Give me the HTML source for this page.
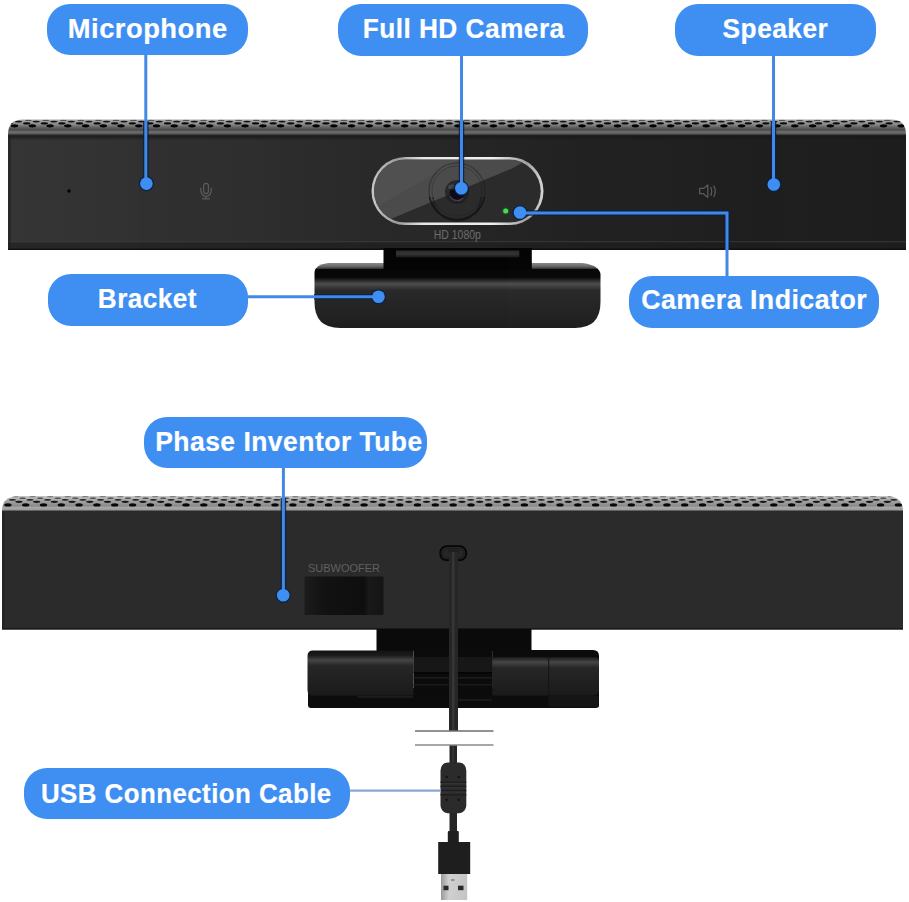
<!DOCTYPE html>
<html>
<head>
<meta charset="utf-8">
<style>
html,body{margin:0;padding:0;background:#fff;}
body{width:909px;height:902px;position:relative;overflow:hidden;}
svg.dev{position:absolute;left:0;top:0;}
.pill{position:absolute;background:#3f8ff2;border-radius:23px;color:#fff;
  font-family:"Liberation Sans",sans-serif;font-weight:bold;font-size:28px;
  display:flex;align-items:center;justify-content:center;white-space:nowrap;}
.pill span{display:inline-block;}
.pill{-webkit-text-stroke:0.2px #fff;letter-spacing:0.5px;}
</style>
</head>
<body>
<svg class="dev" width="909" height="902" viewBox="0 0 909 902">
<defs>
  <linearGradient id="faceTop" x1="0" y1="0" x2="1" y2="0">
    <stop offset="0" stop-color="#353535"/>
    <stop offset="0.35" stop-color="#2c2c2c"/>
    <stop offset="0.65" stop-color="#222222"/>
    <stop offset="1" stop-color="#1d1d1d"/>
  </linearGradient>
  <linearGradient id="stripTop" x1="0" y1="119.5" x2="0" y2="135.5" gradientUnits="userSpaceOnUse">
    <stop offset="0" stop-color="#a8a8a8"/>
    <stop offset="0.3" stop-color="#8a8a8a"/>
    <stop offset="0.5" stop-color="#606060"/>
    <stop offset="0.64" stop-color="#4a4a4a"/>
    <stop offset="0.8" stop-color="#727272"/>
    <stop offset="0.92" stop-color="#4a4a4a"/>
    <stop offset="1" stop-color="#262626"/>
  </linearGradient>
  <linearGradient id="stripBot" x1="0" y1="496" x2="0" y2="511.5" gradientUnits="userSpaceOnUse">
    <stop offset="0" stop-color="#c8c8c8"/>
    <stop offset="0.3" stop-color="#a4a4a4"/>
    <stop offset="0.65" stop-color="#8a8a8a"/>
    <stop offset="0.75" stop-color="#aaaaaa"/>
    <stop offset="0.88" stop-color="#9a9a9a"/>
    <stop offset="0.95" stop-color="#555"/>
    <stop offset="1" stop-color="#2b2b2b"/>
  </linearGradient>
  <clipPath id="clipStripTop"><path d="M8,136 L8,134.5 Q8,119.5 23,119.5 L891,119.5 Q906,119.5 906,134.5 L906,136 Z"/></clipPath>
  <clipPath id="clipStripBot"><path d="M2,512 L2,511 Q2,496 19,496 L886,496 Q903,496 903,511 L903,512 Z"/></clipPath>
  <linearGradient id="ring" x1="0" y1="0" x2="1" y2="0">
    <stop offset="0" stop-color="#c8c8c8"/>
    <stop offset="0.15" stop-color="#9a9a9a"/>
    <stop offset="0.3" stop-color="#e8e8e8"/>
    <stop offset="0.7" stop-color="#f0f0f0"/>
    <stop offset="0.9" stop-color="#a0a0a0"/>
    <stop offset="1" stop-color="#d8d8d8"/>
  </linearGradient>
  <linearGradient id="glass" x1="0" y1="0" x2="1" y2="1" gradientUnits="objectBoundingBox">
    <stop offset="0" stop-color="#5a5a5a"/>
    <stop offset="0.48" stop-color="#444"/>
    <stop offset="0.5" stop-color="#2c2c2c"/>
    <stop offset="1" stop-color="#222"/>
  </linearGradient>
  <linearGradient id="brk" x1="0" y1="263" x2="0" y2="328" gradientUnits="userSpaceOnUse">
    <stop offset="0" stop-color="#8a8a8a"/>
    <stop offset="0.05" stop-color="#6a6a6a"/>
    <stop offset="0.085" stop-color="#3a3a3a"/>
    <stop offset="0.1" stop-color="#080808"/>
    <stop offset="0.22" stop-color="#080808"/>
    <stop offset="0.32" stop-color="#4e4e4e"/>
    <stop offset="0.42" stop-color="#2a2a2a"/>
    <stop offset="1" stop-color="#1f1f1f"/>
  </linearGradient>
  <linearGradient id="cyl" x1="0" y1="650" x2="0" y2="696" gradientUnits="userSpaceOnUse">
    <stop offset="0" stop-color="#101010"/>
    <stop offset="0.12" stop-color="#1c1c1c"/>
    <stop offset="0.22" stop-color="#464646"/>
    <stop offset="0.34" stop-color="#262626"/>
    <stop offset="1" stop-color="#1a1a1a"/>
  </linearGradient>
  <linearGradient id="cyl2" x1="0" y1="657" x2="0" y2="696" gradientUnits="userSpaceOnUse">
    <stop offset="0" stop-color="#181818"/>
    <stop offset="0.13" stop-color="#464646"/>
    <stop offset="0.28" stop-color="#262626"/>
    <stop offset="1" stop-color="#1a1a1a"/>
  </linearGradient>
  <linearGradient id="subg" x1="0" y1="0" x2="1" y2="0">
    <stop offset="0" stop-color="#1c1c1c"/>
    <stop offset="0.25" stop-color="#121212"/>
    <stop offset="0.75" stop-color="#0e0e0e"/>
    <stop offset="0.82" stop-color="#191919"/>
    <stop offset="1" stop-color="#141414"/>
  </linearGradient>
  <linearGradient id="shadeTop" x1="0" y1="0" x2="0" y2="1">
    <stop offset="0" stop-color="#181818" stop-opacity="0.9"/>
    <stop offset="1" stop-color="#181818" stop-opacity="0"/>
  </linearGradient>
  <linearGradient id="neckIn" x1="0" y1="0" x2="0" y2="1">
    <stop offset="0" stop-color="#2a2a2a"/>
    <stop offset="0.5" stop-color="#353535"/>
    <stop offset="1" stop-color="#1a1a1a"/>
  </linearGradient>
  <linearGradient id="metal" x1="0" y1="0" x2="1" y2="0">
    <stop offset="0" stop-color="#9a9a9a"/>
    <stop offset="0.3" stop-color="#d0d0d0"/>
    <stop offset="1" stop-color="#c4c4c4"/>
  </linearGradient>
</defs>

<!-- ===== TOP DEVICE ===== -->
<!-- perforated strip -->
<g clip-path="url(#clipStripTop)">
<rect x="8" y="119" width="898" height="17" fill="url(#stripTop)"/>
<g fill="#555"><ellipse cx="10.8" cy="120.4" rx="3.4" ry="0.7"/><ellipse cx="28.4" cy="120.4" rx="3.4" ry="0.7"/><ellipse cx="45.9" cy="120.4" rx="3.4" ry="0.7"/><ellipse cx="63.4" cy="120.4" rx="3.4" ry="0.7"/><ellipse cx="80.9" cy="120.4" rx="3.4" ry="0.7"/><ellipse cx="98.5" cy="120.4" rx="3.4" ry="0.7"/><ellipse cx="116.0" cy="120.4" rx="3.4" ry="0.7"/><ellipse cx="133.5" cy="120.4" rx="3.4" ry="0.7"/><ellipse cx="151.1" cy="120.4" rx="3.4" ry="0.7"/><ellipse cx="168.6" cy="120.4" rx="3.4" ry="0.7"/><ellipse cx="186.1" cy="120.4" rx="3.4" ry="0.7"/><ellipse cx="203.6" cy="120.4" rx="3.4" ry="0.7"/><ellipse cx="221.2" cy="120.4" rx="3.4" ry="0.7"/><ellipse cx="238.7" cy="120.4" rx="3.4" ry="0.7"/><ellipse cx="256.2" cy="120.4" rx="3.4" ry="0.7"/><ellipse cx="273.8" cy="120.4" rx="3.4" ry="0.7"/><ellipse cx="291.3" cy="120.4" rx="3.4" ry="0.7"/><ellipse cx="308.8" cy="120.4" rx="3.4" ry="0.7"/><ellipse cx="326.4" cy="120.4" rx="3.4" ry="0.7"/><ellipse cx="343.9" cy="120.4" rx="3.4" ry="0.7"/><ellipse cx="361.4" cy="120.4" rx="3.4" ry="0.7"/><ellipse cx="378.9" cy="120.4" rx="3.4" ry="0.7"/><ellipse cx="396.5" cy="120.4" rx="3.4" ry="0.7"/><ellipse cx="414.0" cy="120.4" rx="3.4" ry="0.7"/><ellipse cx="431.5" cy="120.4" rx="3.4" ry="0.7"/><ellipse cx="449.1" cy="120.4" rx="3.4" ry="0.7"/><ellipse cx="466.6" cy="120.4" rx="3.4" ry="0.7"/><ellipse cx="484.1" cy="120.4" rx="3.4" ry="0.7"/><ellipse cx="501.7" cy="120.4" rx="3.4" ry="0.7"/><ellipse cx="519.2" cy="120.4" rx="3.4" ry="0.7"/><ellipse cx="536.7" cy="120.4" rx="3.4" ry="0.7"/><ellipse cx="554.2" cy="120.4" rx="3.4" ry="0.7"/><ellipse cx="571.8" cy="120.4" rx="3.4" ry="0.7"/><ellipse cx="589.3" cy="120.4" rx="3.4" ry="0.7"/><ellipse cx="606.8" cy="120.4" rx="3.4" ry="0.7"/><ellipse cx="624.4" cy="120.4" rx="3.4" ry="0.7"/><ellipse cx="641.9" cy="120.4" rx="3.4" ry="0.7"/><ellipse cx="659.4" cy="120.4" rx="3.4" ry="0.7"/><ellipse cx="676.9" cy="120.4" rx="3.4" ry="0.7"/><ellipse cx="694.5" cy="120.4" rx="3.4" ry="0.7"/><ellipse cx="712.0" cy="120.4" rx="3.4" ry="0.7"/><ellipse cx="729.5" cy="120.4" rx="3.4" ry="0.7"/><ellipse cx="747.1" cy="120.4" rx="3.4" ry="0.7"/><ellipse cx="764.6" cy="120.4" rx="3.4" ry="0.7"/><ellipse cx="782.1" cy="120.4" rx="3.4" ry="0.7"/><ellipse cx="799.7" cy="120.4" rx="3.4" ry="0.7"/><ellipse cx="817.2" cy="120.4" rx="3.4" ry="0.7"/><ellipse cx="834.7" cy="120.4" rx="3.4" ry="0.7"/><ellipse cx="852.2" cy="120.4" rx="3.4" ry="0.7"/><ellipse cx="869.8" cy="120.4" rx="3.4" ry="0.7"/><ellipse cx="887.3" cy="120.4" rx="3.4" ry="0.7"/><ellipse cx="904.8" cy="120.4" rx="3.4" ry="0.7"/></g>
<g fill="#151515"><ellipse cx="18.6" cy="121.6" rx="3.5" ry="0.9"/><ellipse cx="36.2" cy="121.6" rx="3.5" ry="0.9"/><ellipse cx="53.8" cy="121.6" rx="3.5" ry="0.9"/><ellipse cx="71.3" cy="121.6" rx="3.5" ry="0.9"/><ellipse cx="88.9" cy="121.6" rx="3.5" ry="0.9"/><ellipse cx="106.5" cy="121.6" rx="3.5" ry="0.9"/><ellipse cx="124.0" cy="121.6" rx="3.5" ry="0.9"/><ellipse cx="141.6" cy="121.6" rx="3.5" ry="0.9"/><ellipse cx="159.2" cy="121.6" rx="3.5" ry="0.9"/><ellipse cx="176.7" cy="121.6" rx="3.5" ry="0.9"/><ellipse cx="194.3" cy="121.6" rx="3.5" ry="0.9"/><ellipse cx="211.9" cy="121.6" rx="3.5" ry="0.9"/><ellipse cx="229.4" cy="121.6" rx="3.5" ry="0.9"/><ellipse cx="247.0" cy="121.6" rx="3.5" ry="0.9"/><ellipse cx="264.6" cy="121.6" rx="3.5" ry="0.9"/><ellipse cx="282.1" cy="121.6" rx="3.5" ry="0.9"/><ellipse cx="299.7" cy="121.6" rx="3.5" ry="0.9"/><ellipse cx="317.2" cy="121.6" rx="3.5" ry="0.9"/><ellipse cx="334.8" cy="121.6" rx="3.5" ry="0.9"/><ellipse cx="352.4" cy="121.6" rx="3.5" ry="0.9"/><ellipse cx="369.9" cy="121.6" rx="3.5" ry="0.9"/><ellipse cx="387.5" cy="121.6" rx="3.5" ry="0.9"/><ellipse cx="405.1" cy="121.6" rx="3.5" ry="0.9"/><ellipse cx="422.6" cy="121.6" rx="3.5" ry="0.9"/><ellipse cx="440.2" cy="121.6" rx="3.5" ry="0.9"/><ellipse cx="457.8" cy="121.6" rx="3.5" ry="0.9"/><ellipse cx="475.3" cy="121.6" rx="3.5" ry="0.9"/><ellipse cx="492.9" cy="121.6" rx="3.5" ry="0.9"/><ellipse cx="510.5" cy="121.6" rx="3.5" ry="0.9"/><ellipse cx="528.0" cy="121.6" rx="3.5" ry="0.9"/><ellipse cx="545.6" cy="121.6" rx="3.5" ry="0.9"/><ellipse cx="563.2" cy="121.6" rx="3.5" ry="0.9"/><ellipse cx="580.7" cy="121.6" rx="3.5" ry="0.9"/><ellipse cx="598.3" cy="121.6" rx="3.5" ry="0.9"/><ellipse cx="615.8" cy="121.6" rx="3.5" ry="0.9"/><ellipse cx="633.4" cy="121.6" rx="3.5" ry="0.9"/><ellipse cx="651.0" cy="121.6" rx="3.5" ry="0.9"/><ellipse cx="668.5" cy="121.6" rx="3.5" ry="0.9"/><ellipse cx="686.1" cy="121.6" rx="3.5" ry="0.9"/><ellipse cx="703.7" cy="121.6" rx="3.5" ry="0.9"/><ellipse cx="721.2" cy="121.6" rx="3.5" ry="0.9"/><ellipse cx="738.8" cy="121.6" rx="3.5" ry="0.9"/><ellipse cx="756.4" cy="121.6" rx="3.5" ry="0.9"/><ellipse cx="773.9" cy="121.6" rx="3.5" ry="0.9"/><ellipse cx="791.5" cy="121.6" rx="3.5" ry="0.9"/><ellipse cx="809.1" cy="121.6" rx="3.5" ry="0.9"/><ellipse cx="826.6" cy="121.6" rx="3.5" ry="0.9"/><ellipse cx="844.2" cy="121.6" rx="3.5" ry="0.9"/><ellipse cx="861.8" cy="121.6" rx="3.5" ry="0.9"/><ellipse cx="879.3" cy="121.6" rx="3.5" ry="0.9"/><ellipse cx="896.9" cy="121.6" rx="3.5" ry="0.9"/></g>
<g fill="#0a0a0a"><ellipse cx="9.1" cy="123.4" rx="3.6" ry="1.1"/><ellipse cx="26.7" cy="123.4" rx="3.6" ry="1.1"/><ellipse cx="44.3" cy="123.4" rx="3.6" ry="1.1"/><ellipse cx="61.9" cy="123.4" rx="3.6" ry="1.1"/><ellipse cx="79.5" cy="123.4" rx="3.6" ry="1.1"/><ellipse cx="97.1" cy="123.4" rx="3.6" ry="1.1"/><ellipse cx="114.7" cy="123.4" rx="3.6" ry="1.1"/><ellipse cx="132.3" cy="123.4" rx="3.6" ry="1.1"/><ellipse cx="149.9" cy="123.4" rx="3.6" ry="1.1"/><ellipse cx="167.5" cy="123.4" rx="3.6" ry="1.1"/><ellipse cx="185.1" cy="123.4" rx="3.6" ry="1.1"/><ellipse cx="202.7" cy="123.4" rx="3.6" ry="1.1"/><ellipse cx="220.3" cy="123.4" rx="3.6" ry="1.1"/><ellipse cx="237.9" cy="123.4" rx="3.6" ry="1.1"/><ellipse cx="255.5" cy="123.4" rx="3.6" ry="1.1"/><ellipse cx="273.1" cy="123.4" rx="3.6" ry="1.1"/><ellipse cx="290.7" cy="123.4" rx="3.6" ry="1.1"/><ellipse cx="308.3" cy="123.4" rx="3.6" ry="1.1"/><ellipse cx="325.9" cy="123.4" rx="3.6" ry="1.1"/><ellipse cx="343.5" cy="123.4" rx="3.6" ry="1.1"/><ellipse cx="361.1" cy="123.4" rx="3.6" ry="1.1"/><ellipse cx="378.7" cy="123.4" rx="3.6" ry="1.1"/><ellipse cx="396.3" cy="123.4" rx="3.6" ry="1.1"/><ellipse cx="413.9" cy="123.4" rx="3.6" ry="1.1"/><ellipse cx="431.5" cy="123.4" rx="3.6" ry="1.1"/><ellipse cx="449.1" cy="123.4" rx="3.6" ry="1.1"/><ellipse cx="466.7" cy="123.4" rx="3.6" ry="1.1"/><ellipse cx="484.3" cy="123.4" rx="3.6" ry="1.1"/><ellipse cx="501.9" cy="123.4" rx="3.6" ry="1.1"/><ellipse cx="519.5" cy="123.4" rx="3.6" ry="1.1"/><ellipse cx="537.1" cy="123.4" rx="3.6" ry="1.1"/><ellipse cx="554.7" cy="123.4" rx="3.6" ry="1.1"/><ellipse cx="572.3" cy="123.4" rx="3.6" ry="1.1"/><ellipse cx="589.9" cy="123.4" rx="3.6" ry="1.1"/><ellipse cx="607.5" cy="123.4" rx="3.6" ry="1.1"/><ellipse cx="625.1" cy="123.4" rx="3.6" ry="1.1"/><ellipse cx="642.7" cy="123.4" rx="3.6" ry="1.1"/><ellipse cx="660.3" cy="123.4" rx="3.6" ry="1.1"/><ellipse cx="677.9" cy="123.4" rx="3.6" ry="1.1"/><ellipse cx="695.5" cy="123.4" rx="3.6" ry="1.1"/><ellipse cx="713.1" cy="123.4" rx="3.6" ry="1.1"/><ellipse cx="730.7" cy="123.4" rx="3.6" ry="1.1"/><ellipse cx="748.3" cy="123.4" rx="3.6" ry="1.1"/><ellipse cx="765.9" cy="123.4" rx="3.6" ry="1.1"/><ellipse cx="783.5" cy="123.4" rx="3.6" ry="1.1"/><ellipse cx="801.1" cy="123.4" rx="3.6" ry="1.1"/><ellipse cx="818.7" cy="123.4" rx="3.6" ry="1.1"/><ellipse cx="836.3" cy="123.4" rx="3.6" ry="1.1"/><ellipse cx="853.9" cy="123.4" rx="3.6" ry="1.1"/><ellipse cx="871.5" cy="123.4" rx="3.6" ry="1.1"/><ellipse cx="889.1" cy="123.4" rx="3.6" ry="1.1"/><ellipse cx="906.7" cy="123.4" rx="3.6" ry="1.1"/></g>
<g fill="#030303"><ellipse cx="14.6" cy="125.8" rx="3.7" ry="1.6"/><ellipse cx="32.4" cy="125.8" rx="3.7" ry="1.6"/><ellipse cx="50.1" cy="125.8" rx="3.7" ry="1.6"/><ellipse cx="67.8" cy="125.8" rx="3.7" ry="1.6"/><ellipse cx="85.6" cy="125.8" rx="3.7" ry="1.6"/><ellipse cx="103.3" cy="125.8" rx="3.7" ry="1.6"/><ellipse cx="121.0" cy="125.8" rx="3.7" ry="1.6"/><ellipse cx="138.8" cy="125.8" rx="3.7" ry="1.6"/><ellipse cx="156.5" cy="125.8" rx="3.7" ry="1.6"/><ellipse cx="174.2" cy="125.8" rx="3.7" ry="1.6"/><ellipse cx="192.0" cy="125.8" rx="3.7" ry="1.6"/><ellipse cx="209.7" cy="125.8" rx="3.7" ry="1.6"/><ellipse cx="227.4" cy="125.8" rx="3.7" ry="1.6"/><ellipse cx="245.1" cy="125.8" rx="3.7" ry="1.6"/><ellipse cx="262.9" cy="125.8" rx="3.7" ry="1.6"/><ellipse cx="280.6" cy="125.8" rx="3.7" ry="1.6"/><ellipse cx="298.3" cy="125.8" rx="3.7" ry="1.6"/><ellipse cx="316.1" cy="125.8" rx="3.7" ry="1.6"/><ellipse cx="333.8" cy="125.8" rx="3.7" ry="1.6"/><ellipse cx="351.5" cy="125.8" rx="3.7" ry="1.6"/><ellipse cx="369.3" cy="125.8" rx="3.7" ry="1.6"/><ellipse cx="387.0" cy="125.8" rx="3.7" ry="1.6"/><ellipse cx="404.7" cy="125.8" rx="3.7" ry="1.6"/><ellipse cx="422.5" cy="125.8" rx="3.7" ry="1.6"/><ellipse cx="440.2" cy="125.8" rx="3.7" ry="1.6"/><ellipse cx="457.9" cy="125.8" rx="3.7" ry="1.6"/><ellipse cx="475.7" cy="125.8" rx="3.7" ry="1.6"/><ellipse cx="493.4" cy="125.8" rx="3.7" ry="1.6"/><ellipse cx="511.1" cy="125.8" rx="3.7" ry="1.6"/><ellipse cx="528.9" cy="125.8" rx="3.7" ry="1.6"/><ellipse cx="546.6" cy="125.8" rx="3.7" ry="1.6"/><ellipse cx="564.3" cy="125.8" rx="3.7" ry="1.6"/><ellipse cx="582.1" cy="125.8" rx="3.7" ry="1.6"/><ellipse cx="599.8" cy="125.8" rx="3.7" ry="1.6"/><ellipse cx="617.5" cy="125.8" rx="3.7" ry="1.6"/><ellipse cx="635.3" cy="125.8" rx="3.7" ry="1.6"/><ellipse cx="653.0" cy="125.8" rx="3.7" ry="1.6"/><ellipse cx="670.7" cy="125.8" rx="3.7" ry="1.6"/><ellipse cx="688.4" cy="125.8" rx="3.7" ry="1.6"/><ellipse cx="706.2" cy="125.8" rx="3.7" ry="1.6"/><ellipse cx="723.9" cy="125.8" rx="3.7" ry="1.6"/><ellipse cx="741.6" cy="125.8" rx="3.7" ry="1.6"/><ellipse cx="759.4" cy="125.8" rx="3.7" ry="1.6"/><ellipse cx="777.1" cy="125.8" rx="3.7" ry="1.6"/><ellipse cx="794.8" cy="125.8" rx="3.7" ry="1.6"/><ellipse cx="812.6" cy="125.8" rx="3.7" ry="1.6"/><ellipse cx="830.3" cy="125.8" rx="3.7" ry="1.6"/><ellipse cx="848.0" cy="125.8" rx="3.7" ry="1.6"/><ellipse cx="865.8" cy="125.8" rx="3.7" ry="1.6"/><ellipse cx="883.5" cy="125.8" rx="3.7" ry="1.6"/><ellipse cx="901.2" cy="125.8" rx="3.7" ry="1.6"/></g>
</g>
<!-- front face -->
<rect x="8" y="135.5" width="898" height="114.5" fill="url(#faceTop)"/>
<rect x="8" y="135.5" width="898" height="5" fill="url(#shadeTop)"/>
<rect x="8" y="241" width="898" height="1.5" fill="#3a3a3a" opacity="0.7"/>
<rect x="8" y="242.5" width="898" height="6.5" fill="#1e1e1e" opacity="0.6"/>
<rect x="8" y="248.5" width="898" height="1.5" fill="#111"/>
<rect x="8" y="137" width="3" height="112" fill="#222" opacity="0.6"/>
<!-- small mic hole -->
<circle cx="69" cy="191" r="1.8" fill="#050505"/>
<!-- mic icon -->
<g stroke="#5c5c5c" stroke-width="1.25" fill="none">
  <rect x="203.6" y="183.4" width="4.8" height="10.2" rx="2.4"/>
  <path d="M200.6,187.8 Q200.6,196.4 206,196.4 Q211.4,196.4 211.4,187.8"/>
  <line x1="206" y1="196.4" x2="206" y2="198.8"/>
  <line x1="202" y1="198.8" x2="210" y2="198.8"/>
</g>
<!-- speaker icon -->
<g stroke="#5a5a5a" stroke-width="1.3" fill="none" stroke-linejoin="round">
  <path d="M699.6,188.4 L703.4,188.4 L707.8,185 L707.8,197.4 L703.4,193.7 L699.6,193.7 Z"/>
  <path d="M710.6,187 Q712.8,191.2 710.6,195.6"/>
  <path d="M713.6,185.6 Q717,191.2 713.6,197"/>
</g>
<!-- camera module -->
<rect x="371.5" y="157" width="172" height="68" rx="34" fill="url(#ring)"/>
<rect x="374.3" y="160" width="166.4" height="62.5" rx="31.2" fill="#2c2c2c"/>
<clipPath id="glassClip"><rect x="374" y="159.5" width="167" height="63" rx="31.5"/></clipPath>
<g clip-path="url(#glassClip)">
  <polygon points="374,159 545,159 545,150 512,168.5 393,218 374,226" fill="#4c4c4c"/>
  <polygon points="374,159 460,159 380,205 374,210" fill="#565656" opacity="0.5"/>
</g>
<circle cx="457" cy="191" r="28" fill="none" stroke="#1a1a1a" stroke-width="1.2" opacity="0.45"/>
<circle cx="457" cy="191" r="25" fill="none" stroke="#1a1a1a" stroke-width="1" opacity="0.3"/>
<path d="M429.5,197 A28,28 0 0 0 484.5,197" fill="none" stroke="#111" stroke-width="1.6" opacity="0.7"/>
<path d="M433,197 A24,24 0 0 0 481,197" fill="none" stroke="#151515" stroke-width="1.4" opacity="0.6"/>
<circle cx="457" cy="192" r="12" fill="#1c1c1c" opacity="0.7"/>
<circle cx="457" cy="193" r="7.5" fill="#0e0c14"/>
<path d="M450,196 A8,8 0 0 0 463,198" fill="none" stroke="#6a5a8a" stroke-width="1.2" opacity="0.6"/>
<ellipse cx="452" cy="187" rx="4" ry="2.5" fill="#777" opacity="0.35"/>
<circle cx="505.7" cy="211" r="3.6" fill="#2a6a30" opacity="0.5"/><circle cx="505.7" cy="211" r="2.5" fill="#3ee04e"/>
<text x="433.8" y="238.6" font-family="Liberation Sans, sans-serif" font-size="12.4" fill="#6e6e6e" textLength="47" lengthAdjust="spacingAndGlyphs">HD 1080p</text>
<!-- bracket -->
<path d="M328,263 L582,263 Q599,265 600.5,274 L600.5,302 Q600.5,328 575,328 L340,328 Q314.5,328 314.5,302 L314.5,272 Q315.5,264.5 328,263 Z" fill="url(#brk)"/>
<!-- neck -->
<rect x="383.5" y="248" width="148.3" height="21.5" fill="#050505"/>
<rect x="396" y="250.5" width="123.3" height="6.8" fill="url(#neckIn)"/>

<!-- ===== BOTTOM DEVICE ===== -->
<g clip-path="url(#clipStripBot)">
<rect x="2" y="495" width="901" height="17" fill="url(#stripBot)"/>
<g fill="#7a7a7a"><ellipse cx="-2.4" cy="496.7" rx="3.4" ry="0.6"/><ellipse cx="15.1" cy="496.7" rx="3.4" ry="0.6"/><ellipse cx="32.6" cy="496.7" rx="3.4" ry="0.6"/><ellipse cx="50.2" cy="496.7" rx="3.4" ry="0.6"/><ellipse cx="67.7" cy="496.7" rx="3.4" ry="0.6"/><ellipse cx="85.2" cy="496.7" rx="3.4" ry="0.6"/><ellipse cx="102.7" cy="496.7" rx="3.4" ry="0.6"/><ellipse cx="120.2" cy="496.7" rx="3.4" ry="0.6"/><ellipse cx="137.7" cy="496.7" rx="3.4" ry="0.6"/><ellipse cx="155.2" cy="496.7" rx="3.4" ry="0.6"/><ellipse cx="172.7" cy="496.7" rx="3.4" ry="0.6"/><ellipse cx="190.3" cy="496.7" rx="3.4" ry="0.6"/><ellipse cx="207.8" cy="496.7" rx="3.4" ry="0.6"/><ellipse cx="225.3" cy="496.7" rx="3.4" ry="0.6"/><ellipse cx="242.8" cy="496.7" rx="3.4" ry="0.6"/><ellipse cx="260.3" cy="496.7" rx="3.4" ry="0.6"/><ellipse cx="277.8" cy="496.7" rx="3.4" ry="0.6"/><ellipse cx="295.3" cy="496.7" rx="3.4" ry="0.6"/><ellipse cx="312.8" cy="496.7" rx="3.4" ry="0.6"/><ellipse cx="330.4" cy="496.7" rx="3.4" ry="0.6"/><ellipse cx="347.9" cy="496.7" rx="3.4" ry="0.6"/><ellipse cx="365.4" cy="496.7" rx="3.4" ry="0.6"/><ellipse cx="382.9" cy="496.7" rx="3.4" ry="0.6"/><ellipse cx="400.4" cy="496.7" rx="3.4" ry="0.6"/><ellipse cx="417.9" cy="496.7" rx="3.4" ry="0.6"/><ellipse cx="435.4" cy="496.7" rx="3.4" ry="0.6"/><ellipse cx="452.9" cy="496.7" rx="3.4" ry="0.6"/><ellipse cx="470.4" cy="496.7" rx="3.4" ry="0.6"/><ellipse cx="488.0" cy="496.7" rx="3.4" ry="0.6"/><ellipse cx="505.5" cy="496.7" rx="3.4" ry="0.6"/><ellipse cx="523.0" cy="496.7" rx="3.4" ry="0.6"/><ellipse cx="540.5" cy="496.7" rx="3.4" ry="0.6"/><ellipse cx="558.0" cy="496.7" rx="3.4" ry="0.6"/><ellipse cx="575.5" cy="496.7" rx="3.4" ry="0.6"/><ellipse cx="593.0" cy="496.7" rx="3.4" ry="0.6"/><ellipse cx="610.5" cy="496.7" rx="3.4" ry="0.6"/><ellipse cx="628.1" cy="496.7" rx="3.4" ry="0.6"/><ellipse cx="645.6" cy="496.7" rx="3.4" ry="0.6"/><ellipse cx="663.1" cy="496.7" rx="3.4" ry="0.6"/><ellipse cx="680.6" cy="496.7" rx="3.4" ry="0.6"/><ellipse cx="698.1" cy="496.7" rx="3.4" ry="0.6"/><ellipse cx="715.6" cy="496.7" rx="3.4" ry="0.6"/><ellipse cx="733.1" cy="496.7" rx="3.4" ry="0.6"/><ellipse cx="750.6" cy="496.7" rx="3.4" ry="0.6"/><ellipse cx="768.2" cy="496.7" rx="3.4" ry="0.6"/><ellipse cx="785.7" cy="496.7" rx="3.4" ry="0.6"/><ellipse cx="803.2" cy="496.7" rx="3.4" ry="0.6"/><ellipse cx="820.7" cy="496.7" rx="3.4" ry="0.6"/><ellipse cx="838.2" cy="496.7" rx="3.4" ry="0.6"/><ellipse cx="855.7" cy="496.7" rx="3.4" ry="0.6"/><ellipse cx="873.2" cy="496.7" rx="3.4" ry="0.6"/><ellipse cx="890.7" cy="496.7" rx="3.4" ry="0.6"/></g>
<g fill="#333"><ellipse cx="5.1" cy="498.1" rx="3.5" ry="0.7"/><ellipse cx="22.6" cy="498.1" rx="3.5" ry="0.7"/><ellipse cx="40.2" cy="498.1" rx="3.5" ry="0.7"/><ellipse cx="57.8" cy="498.1" rx="3.5" ry="0.7"/><ellipse cx="75.3" cy="498.1" rx="3.5" ry="0.7"/><ellipse cx="92.9" cy="498.1" rx="3.5" ry="0.7"/><ellipse cx="110.5" cy="498.1" rx="3.5" ry="0.7"/><ellipse cx="128.0" cy="498.1" rx="3.5" ry="0.7"/><ellipse cx="145.6" cy="498.1" rx="3.5" ry="0.7"/><ellipse cx="163.2" cy="498.1" rx="3.5" ry="0.7"/><ellipse cx="180.7" cy="498.1" rx="3.5" ry="0.7"/><ellipse cx="198.3" cy="498.1" rx="3.5" ry="0.7"/><ellipse cx="215.8" cy="498.1" rx="3.5" ry="0.7"/><ellipse cx="233.4" cy="498.1" rx="3.5" ry="0.7"/><ellipse cx="251.0" cy="498.1" rx="3.5" ry="0.7"/><ellipse cx="268.5" cy="498.1" rx="3.5" ry="0.7"/><ellipse cx="286.1" cy="498.1" rx="3.5" ry="0.7"/><ellipse cx="303.7" cy="498.1" rx="3.5" ry="0.7"/><ellipse cx="321.2" cy="498.1" rx="3.5" ry="0.7"/><ellipse cx="338.8" cy="498.1" rx="3.5" ry="0.7"/><ellipse cx="356.4" cy="498.1" rx="3.5" ry="0.7"/><ellipse cx="373.9" cy="498.1" rx="3.5" ry="0.7"/><ellipse cx="391.5" cy="498.1" rx="3.5" ry="0.7"/><ellipse cx="409.1" cy="498.1" rx="3.5" ry="0.7"/><ellipse cx="426.6" cy="498.1" rx="3.5" ry="0.7"/><ellipse cx="444.2" cy="498.1" rx="3.5" ry="0.7"/><ellipse cx="461.8" cy="498.1" rx="3.5" ry="0.7"/><ellipse cx="479.3" cy="498.1" rx="3.5" ry="0.7"/><ellipse cx="496.9" cy="498.1" rx="3.5" ry="0.7"/><ellipse cx="514.5" cy="498.1" rx="3.5" ry="0.7"/><ellipse cx="532.0" cy="498.1" rx="3.5" ry="0.7"/><ellipse cx="549.6" cy="498.1" rx="3.5" ry="0.7"/><ellipse cx="567.1" cy="498.1" rx="3.5" ry="0.7"/><ellipse cx="584.7" cy="498.1" rx="3.5" ry="0.7"/><ellipse cx="602.3" cy="498.1" rx="3.5" ry="0.7"/><ellipse cx="619.8" cy="498.1" rx="3.5" ry="0.7"/><ellipse cx="637.4" cy="498.1" rx="3.5" ry="0.7"/><ellipse cx="655.0" cy="498.1" rx="3.5" ry="0.7"/><ellipse cx="672.5" cy="498.1" rx="3.5" ry="0.7"/><ellipse cx="690.1" cy="498.1" rx="3.5" ry="0.7"/><ellipse cx="707.7" cy="498.1" rx="3.5" ry="0.7"/><ellipse cx="725.2" cy="498.1" rx="3.5" ry="0.7"/><ellipse cx="742.8" cy="498.1" rx="3.5" ry="0.7"/><ellipse cx="760.4" cy="498.1" rx="3.5" ry="0.7"/><ellipse cx="777.9" cy="498.1" rx="3.5" ry="0.7"/><ellipse cx="795.5" cy="498.1" rx="3.5" ry="0.7"/><ellipse cx="813.1" cy="498.1" rx="3.5" ry="0.7"/><ellipse cx="830.6" cy="498.1" rx="3.5" ry="0.7"/><ellipse cx="848.2" cy="498.1" rx="3.5" ry="0.7"/><ellipse cx="865.7" cy="498.1" rx="3.5" ry="0.7"/><ellipse cx="883.3" cy="498.1" rx="3.5" ry="0.7"/><ellipse cx="900.9" cy="498.1" rx="3.5" ry="0.7"/></g>
<g fill="#222"><ellipse cx="12.4" cy="499.8" rx="3.5" ry="0.9"/><ellipse cx="30.0" cy="499.8" rx="3.5" ry="0.9"/><ellipse cx="47.6" cy="499.8" rx="3.5" ry="0.9"/><ellipse cx="65.2" cy="499.8" rx="3.5" ry="0.9"/><ellipse cx="82.9" cy="499.8" rx="3.5" ry="0.9"/><ellipse cx="100.5" cy="499.8" rx="3.5" ry="0.9"/><ellipse cx="118.1" cy="499.8" rx="3.5" ry="0.9"/><ellipse cx="135.7" cy="499.8" rx="3.5" ry="0.9"/><ellipse cx="153.4" cy="499.8" rx="3.5" ry="0.9"/><ellipse cx="171.0" cy="499.8" rx="3.5" ry="0.9"/><ellipse cx="188.6" cy="499.8" rx="3.5" ry="0.9"/><ellipse cx="206.2" cy="499.8" rx="3.5" ry="0.9"/><ellipse cx="223.9" cy="499.8" rx="3.5" ry="0.9"/><ellipse cx="241.5" cy="499.8" rx="3.5" ry="0.9"/><ellipse cx="259.1" cy="499.8" rx="3.5" ry="0.9"/><ellipse cx="276.8" cy="499.8" rx="3.5" ry="0.9"/><ellipse cx="294.4" cy="499.8" rx="3.5" ry="0.9"/><ellipse cx="312.0" cy="499.8" rx="3.5" ry="0.9"/><ellipse cx="329.6" cy="499.8" rx="3.5" ry="0.9"/><ellipse cx="347.3" cy="499.8" rx="3.5" ry="0.9"/><ellipse cx="364.9" cy="499.8" rx="3.5" ry="0.9"/><ellipse cx="382.5" cy="499.8" rx="3.5" ry="0.9"/><ellipse cx="400.1" cy="499.8" rx="3.5" ry="0.9"/><ellipse cx="417.8" cy="499.8" rx="3.5" ry="0.9"/><ellipse cx="435.4" cy="499.8" rx="3.5" ry="0.9"/><ellipse cx="453.0" cy="499.8" rx="3.5" ry="0.9"/><ellipse cx="470.6" cy="499.8" rx="3.5" ry="0.9"/><ellipse cx="488.3" cy="499.8" rx="3.5" ry="0.9"/><ellipse cx="505.9" cy="499.8" rx="3.5" ry="0.9"/><ellipse cx="523.5" cy="499.8" rx="3.5" ry="0.9"/><ellipse cx="541.2" cy="499.8" rx="3.5" ry="0.9"/><ellipse cx="558.8" cy="499.8" rx="3.5" ry="0.9"/><ellipse cx="576.4" cy="499.8" rx="3.5" ry="0.9"/><ellipse cx="594.0" cy="499.8" rx="3.5" ry="0.9"/><ellipse cx="611.7" cy="499.8" rx="3.5" ry="0.9"/><ellipse cx="629.3" cy="499.8" rx="3.5" ry="0.9"/><ellipse cx="646.9" cy="499.8" rx="3.5" ry="0.9"/><ellipse cx="664.5" cy="499.8" rx="3.5" ry="0.9"/><ellipse cx="682.2" cy="499.8" rx="3.5" ry="0.9"/><ellipse cx="699.8" cy="499.8" rx="3.5" ry="0.9"/><ellipse cx="717.4" cy="499.8" rx="3.5" ry="0.9"/><ellipse cx="735.0" cy="499.8" rx="3.5" ry="0.9"/><ellipse cx="752.7" cy="499.8" rx="3.5" ry="0.9"/><ellipse cx="770.3" cy="499.8" rx="3.5" ry="0.9"/><ellipse cx="787.9" cy="499.8" rx="3.5" ry="0.9"/><ellipse cx="805.5" cy="499.8" rx="3.5" ry="0.9"/><ellipse cx="823.2" cy="499.8" rx="3.5" ry="0.9"/><ellipse cx="840.8" cy="499.8" rx="3.5" ry="0.9"/><ellipse cx="858.4" cy="499.8" rx="3.5" ry="0.9"/><ellipse cx="876.1" cy="499.8" rx="3.5" ry="0.9"/><ellipse cx="893.7" cy="499.8" rx="3.5" ry="0.9"/></g>
<g fill="#161616"><ellipse cx="1.1" cy="501.8" rx="3.6" ry="1.1"/><ellipse cx="18.9" cy="501.8" rx="3.6" ry="1.1"/><ellipse cx="36.6" cy="501.8" rx="3.6" ry="1.1"/><ellipse cx="54.3" cy="501.8" rx="3.6" ry="1.1"/><ellipse cx="72.0" cy="501.8" rx="3.6" ry="1.1"/><ellipse cx="89.8" cy="501.8" rx="3.6" ry="1.1"/><ellipse cx="107.5" cy="501.8" rx="3.6" ry="1.1"/><ellipse cx="125.2" cy="501.8" rx="3.6" ry="1.1"/><ellipse cx="142.9" cy="501.8" rx="3.6" ry="1.1"/><ellipse cx="160.7" cy="501.8" rx="3.6" ry="1.1"/><ellipse cx="178.4" cy="501.8" rx="3.6" ry="1.1"/><ellipse cx="196.1" cy="501.8" rx="3.6" ry="1.1"/><ellipse cx="213.8" cy="501.8" rx="3.6" ry="1.1"/><ellipse cx="231.6" cy="501.8" rx="3.6" ry="1.1"/><ellipse cx="249.3" cy="501.8" rx="3.6" ry="1.1"/><ellipse cx="267.0" cy="501.8" rx="3.6" ry="1.1"/><ellipse cx="284.7" cy="501.8" rx="3.6" ry="1.1"/><ellipse cx="302.4" cy="501.8" rx="3.6" ry="1.1"/><ellipse cx="320.2" cy="501.8" rx="3.6" ry="1.1"/><ellipse cx="337.9" cy="501.8" rx="3.6" ry="1.1"/><ellipse cx="355.6" cy="501.8" rx="3.6" ry="1.1"/><ellipse cx="373.3" cy="501.8" rx="3.6" ry="1.1"/><ellipse cx="391.1" cy="501.8" rx="3.6" ry="1.1"/><ellipse cx="408.8" cy="501.8" rx="3.6" ry="1.1"/><ellipse cx="426.5" cy="501.8" rx="3.6" ry="1.1"/><ellipse cx="444.2" cy="501.8" rx="3.6" ry="1.1"/><ellipse cx="462.0" cy="501.8" rx="3.6" ry="1.1"/><ellipse cx="479.7" cy="501.8" rx="3.6" ry="1.1"/><ellipse cx="497.4" cy="501.8" rx="3.6" ry="1.1"/><ellipse cx="515.1" cy="501.8" rx="3.6" ry="1.1"/><ellipse cx="532.8" cy="501.8" rx="3.6" ry="1.1"/><ellipse cx="550.6" cy="501.8" rx="3.6" ry="1.1"/><ellipse cx="568.3" cy="501.8" rx="3.6" ry="1.1"/><ellipse cx="586.0" cy="501.8" rx="3.6" ry="1.1"/><ellipse cx="603.7" cy="501.8" rx="3.6" ry="1.1"/><ellipse cx="621.5" cy="501.8" rx="3.6" ry="1.1"/><ellipse cx="639.2" cy="501.8" rx="3.6" ry="1.1"/><ellipse cx="656.9" cy="501.8" rx="3.6" ry="1.1"/><ellipse cx="674.6" cy="501.8" rx="3.6" ry="1.1"/><ellipse cx="692.4" cy="501.8" rx="3.6" ry="1.1"/><ellipse cx="710.1" cy="501.8" rx="3.6" ry="1.1"/><ellipse cx="727.8" cy="501.8" rx="3.6" ry="1.1"/><ellipse cx="745.5" cy="501.8" rx="3.6" ry="1.1"/><ellipse cx="763.2" cy="501.8" rx="3.6" ry="1.1"/><ellipse cx="781.0" cy="501.8" rx="3.6" ry="1.1"/><ellipse cx="798.7" cy="501.8" rx="3.6" ry="1.1"/><ellipse cx="816.4" cy="501.8" rx="3.6" ry="1.1"/><ellipse cx="834.1" cy="501.8" rx="3.6" ry="1.1"/><ellipse cx="851.9" cy="501.8" rx="3.6" ry="1.1"/><ellipse cx="869.6" cy="501.8" rx="3.6" ry="1.1"/><ellipse cx="887.3" cy="501.8" rx="3.6" ry="1.1"/><ellipse cx="905.0" cy="501.8" rx="3.6" ry="1.1"/></g>
<g fill="#080808"><ellipse cx="7.9" cy="504.9" rx="3.7" ry="1.6"/><ellipse cx="25.7" cy="504.9" rx="3.7" ry="1.6"/><ellipse cx="43.5" cy="504.9" rx="3.7" ry="1.6"/><ellipse cx="61.3" cy="504.9" rx="3.7" ry="1.6"/><ellipse cx="79.1" cy="504.9" rx="3.7" ry="1.6"/><ellipse cx="96.9" cy="504.9" rx="3.7" ry="1.6"/><ellipse cx="114.7" cy="504.9" rx="3.7" ry="1.6"/><ellipse cx="132.6" cy="504.9" rx="3.7" ry="1.6"/><ellipse cx="150.4" cy="504.9" rx="3.7" ry="1.6"/><ellipse cx="168.2" cy="504.9" rx="3.7" ry="1.6"/><ellipse cx="186.0" cy="504.9" rx="3.7" ry="1.6"/><ellipse cx="203.8" cy="504.9" rx="3.7" ry="1.6"/><ellipse cx="221.6" cy="504.9" rx="3.7" ry="1.6"/><ellipse cx="239.4" cy="504.9" rx="3.7" ry="1.6"/><ellipse cx="257.2" cy="504.9" rx="3.7" ry="1.6"/><ellipse cx="275.0" cy="504.9" rx="3.7" ry="1.6"/><ellipse cx="292.9" cy="504.9" rx="3.7" ry="1.6"/><ellipse cx="310.7" cy="504.9" rx="3.7" ry="1.6"/><ellipse cx="328.5" cy="504.9" rx="3.7" ry="1.6"/><ellipse cx="346.3" cy="504.9" rx="3.7" ry="1.6"/><ellipse cx="364.1" cy="504.9" rx="3.7" ry="1.6"/><ellipse cx="381.9" cy="504.9" rx="3.7" ry="1.6"/><ellipse cx="399.7" cy="504.9" rx="3.7" ry="1.6"/><ellipse cx="417.5" cy="504.9" rx="3.7" ry="1.6"/><ellipse cx="435.3" cy="504.9" rx="3.7" ry="1.6"/><ellipse cx="453.2" cy="504.9" rx="3.7" ry="1.6"/><ellipse cx="471.0" cy="504.9" rx="3.7" ry="1.6"/><ellipse cx="488.8" cy="504.9" rx="3.7" ry="1.6"/><ellipse cx="506.6" cy="504.9" rx="3.7" ry="1.6"/><ellipse cx="524.4" cy="504.9" rx="3.7" ry="1.6"/><ellipse cx="542.2" cy="504.9" rx="3.7" ry="1.6"/><ellipse cx="560.0" cy="504.9" rx="3.7" ry="1.6"/><ellipse cx="577.8" cy="504.9" rx="3.7" ry="1.6"/><ellipse cx="595.6" cy="504.9" rx="3.7" ry="1.6"/><ellipse cx="613.5" cy="504.9" rx="3.7" ry="1.6"/><ellipse cx="631.3" cy="504.9" rx="3.7" ry="1.6"/><ellipse cx="649.1" cy="504.9" rx="3.7" ry="1.6"/><ellipse cx="666.9" cy="504.9" rx="3.7" ry="1.6"/><ellipse cx="684.7" cy="504.9" rx="3.7" ry="1.6"/><ellipse cx="702.5" cy="504.9" rx="3.7" ry="1.6"/><ellipse cx="720.3" cy="504.9" rx="3.7" ry="1.6"/><ellipse cx="738.1" cy="504.9" rx="3.7" ry="1.6"/><ellipse cx="755.9" cy="504.9" rx="3.7" ry="1.6"/><ellipse cx="773.8" cy="504.9" rx="3.7" ry="1.6"/><ellipse cx="791.6" cy="504.9" rx="3.7" ry="1.6"/><ellipse cx="809.4" cy="504.9" rx="3.7" ry="1.6"/><ellipse cx="827.2" cy="504.9" rx="3.7" ry="1.6"/><ellipse cx="845.0" cy="504.9" rx="3.7" ry="1.6"/><ellipse cx="862.8" cy="504.9" rx="3.7" ry="1.6"/><ellipse cx="880.6" cy="504.9" rx="3.7" ry="1.6"/><ellipse cx="898.4" cy="504.9" rx="3.7" ry="1.6"/></g>
</g>
<rect x="2" y="511.5" width="901" height="118" fill="#2b2b2b"/>
<rect x="2" y="628" width="901" height="1.5" fill="#1a1a1a"/>
<rect x="2" y="512" width="3" height="116" fill="#222" opacity="0.6"/>
<text x="308" y="572.3" font-family="Liberation Sans, sans-serif" font-size="11.6" fill="#606060" textLength="72" lengthAdjust="spacingAndGlyphs">SUBWOOFER</text>
<rect x="304.5" y="576.5" width="79" height="38.5" fill="url(#subg)"/>
<!-- port -->
<rect x="440.2" y="546.2" width="26" height="14" rx="6.5" fill="#262626" stroke="#060606" stroke-width="1.8"/>
<rect x="442.5" y="548.5" width="21.5" height="9.5" rx="4.5" fill="none" stroke="#1a1a1a" stroke-width="1"/>
<!-- back neck -->
<rect x="376.5" y="629" width="155" height="22" fill="#0a0a0a"/>
<!-- bracket cylinder -->
<rect x="308" y="688" width="291" height="20" rx="3" fill="#0c0c0c"/>
<rect x="358" y="696.3" width="55" height="1.2" fill="#262626"/>
<rect x="457" y="699.5" width="35" height="1.2" fill="#222"/>
<rect x="548.5" y="696" width="50" height="11" fill="#151515"/>
<rect x="413.5" y="650" width="79" height="45" fill="#0b0b0b"/>
<rect x="413.5" y="657" width="79" height="15" fill="#171717"/>
<rect x="413.5" y="672" width="79" height="1.5" fill="#050505"/>
<rect x="413.5" y="677" width="79" height="1.5" fill="#1e1e1e"/>
<rect x="413.5" y="684" width="79" height="1.5" fill="#1a1a1a"/>
<path d="M313,650.5 L413.5,650.5 L413.5,695.5 L313,695.5 Q307.5,695.5 307.5,690 L307.5,656 Q307.5,650.5 313,650.5 Z" fill="url(#cyl)"/>
<path d="M492.3,650 L593,650 Q599,650 599,656 L599,690 Q599,695.5 593,695.5 L492.3,695.5 Z" fill="#0b0b0b"/>
<path d="M492.3,657 L594,657 Q599,657 599,662 L599,690 Q599,695.5 593,695.5 L492.3,695.5 Z" fill="url(#cyl2)"/>
<rect x="548.2" y="657" width="1" height="38" fill="#141414"/>
<!-- cable -->
<rect x="448.5" y="549.5" width="10" height="4" rx="1" fill="#1e1e1e"/>
<rect x="449" y="552" width="9" height="179" fill="#262626"/>
<rect x="452" y="552" width="2.5" height="179" fill="#363636"/>
<rect x="449.5" y="745" width="7.5" height="88" fill="#262626"/>
<rect x="452.2" y="745" width="2" height="17" fill="#343434"/>
<line x1="415" y1="731" x2="493.5" y2="731" stroke="#6e6e6e" stroke-width="1.3"/>
<line x1="415" y1="745" x2="493.5" y2="745" stroke="#8a8a8a" stroke-width="1.3"/>
<!-- ferrite -->
<rect x="440.5" y="762.5" width="25.8" height="50.7" rx="7" ry="8" fill="#2b2b2b"/>
<g fill="#1e1e1e">
<rect x="440.5" y="781.5" width="25.8" height="1.4"/>
<rect x="440.5" y="785.7" width="25.8" height="1.4"/>
<rect x="440.5" y="789.9" width="25.8" height="1.4"/>
<rect x="440.5" y="794.1" width="25.8" height="1.4"/>
</g>
<g fill="#363636">
<rect x="441" y="783.2" width="24.8" height="1"/>
<rect x="441" y="787.4" width="24.8" height="1"/>
<rect x="441" y="791.6" width="24.8" height="1"/>
</g>
<circle cx="446.6" cy="777" r="1.2" fill="#111"/><circle cx="458.7" cy="777" r="1.2" fill="#111"/>
<circle cx="446.6" cy="799.7" r="1.2" fill="#111"/><circle cx="458.7" cy="799.7" r="1.2" fill="#111"/>
<!-- strain relief & plug -->
<rect x="447.8" y="831" width="11" height="11.5" rx="1" fill="#1f1f1f"/>
<rect x="438.2" y="842" width="32" height="32" fill="#1e1e1e"/>
<rect x="441" y="874" width="26.2" height="26" fill="url(#metal)"/>
<rect x="443.5" y="885.7" width="5" height="4.5" fill="#2a2a2a"/>
<rect x="458" y="885.7" width="5.5" height="4.5" fill="#2a2a2a"/>
<rect x="451" y="879.5" width="3.5" height="1" fill="#555"/>

<!-- ===== CALLOUT LINES ===== -->
<clipPath id="devClip"><rect x="8" y="121" width="898" height="129"/><rect x="314" y="250" width="287" height="78"/><rect x="2" y="498" width="901" height="132"/></clipPath>
<g clip-path="url(#devClip)" stroke="#0a2045" fill="none" opacity="0.85">
  <line x1="145.8" y1="55" x2="145.8" y2="183" stroke-width="5.5"/>
  <line x1="461.5" y1="55" x2="461.5" y2="188" stroke-width="5.5"/>
  <line x1="773.5" y1="55" x2="773.5" y2="184" stroke-width="5.5"/>
  <line x1="247" y1="296.8" x2="378" y2="296.8" stroke-width="5.5"/>
  <polyline points="520,213 727,213 727,276" stroke-width="5.5"/>
  <line x1="283.4" y1="467" x2="283.4" y2="595" stroke-width="5.5"/>
  <circle cx="146.4" cy="183.6" r="7.6" fill="#0a2045" stroke="none"/>
  <circle cx="461.4" cy="188.3" r="7.6" fill="#0a2045" stroke="none"/>
  <circle cx="773.8" cy="184.5" r="7.6" fill="#0a2045" stroke="none"/>
  <circle cx="378.5" cy="296.8" r="7.6" fill="#0a2045" stroke="none"/>
  <circle cx="520" cy="212.5" r="7.6" fill="#0a2045" stroke="none"/>
  <circle cx="283.2" cy="595.3" r="7.6" fill="#0a2045" stroke="none"/>
</g>
<g stroke="#4289e6" stroke-width="3" fill="none">
  <line x1="145.8" y1="55" x2="145.8" y2="183"/>
  <line x1="461.5" y1="55" x2="461.5" y2="188"/>
  <line x1="773.5" y1="55" x2="773.5" y2="184"/>
  <line x1="247" y1="296.8" x2="378" y2="296.8"/>
  <polyline points="520,213 727,213 727,276"/>
  <line x1="283.4" y1="467" x2="283.4" y2="595"/>
</g>
<line x1="349" y1="790.7" x2="441" y2="790.7" stroke="#8aa8d0" stroke-width="2.2"/>
<g fill="#3f8ff2">
  <circle cx="146.4" cy="183.6" r="6.3"/>
  <circle cx="461.4" cy="188.3" r="6.3"/>
  <circle cx="773.8" cy="184.5" r="6.3"/>
  <circle cx="378.5" cy="296.8" r="6.3"/>
  <circle cx="520" cy="212.5" r="6.3"/>
  <circle cx="283.2" cy="595.3" r="6.3"/>
</g>
</svg>

<div class="pill" style="left:47.3px;top:3.8px;width:200.5px;height:51.7px;"><span id="L0" style="transform:translate(-0.13px,-0.70px) scaleX(0.9768)">Microphone</span></div>
<div class="pill" style="left:338px;top:4px;width:250px;height:51.5px;"><span id="L1" style="transform:translate(0.90px,-0.80px) scaleX(0.9373)">Full HD Camera</span></div>
<div class="pill" style="left:675px;top:3.7px;width:200.6px;height:51.9px;"><span id="L2" style="transform:translate(0.18px,-1.00px) scaleX(0.9396)">Speaker</span></div>
<div class="pill" style="left:48.2px;top:273.5px;width:200px;height:52px;"><span id="L3" style="transform:translate(-0.72px,-0.70px) scaleX(0.9343)">Bracket</span></div>
<div class="pill" style="left:629px;top:275.5px;width:249.7px;height:52px;"><span id="L4" style="transform:translate(0.72px,-1.80px) scaleX(0.9543)">Camera Indicator</span></div>
<div class="pill" style="left:144.4px;top:416.6px;width:282.3px;height:51.7px;"><span id="L5" style="transform:translate(3.51px,-0.30px) scaleX(0.9460)">Phase Inventor Tube</span></div>
<div class="pill" style="left:24px;top:768px;width:326px;height:51px;"><span id="L6" style="transform:translate(-1.13px,0.20px) scaleX(0.9230)">USB Connection Cable</span></div>
</body>
</html>
